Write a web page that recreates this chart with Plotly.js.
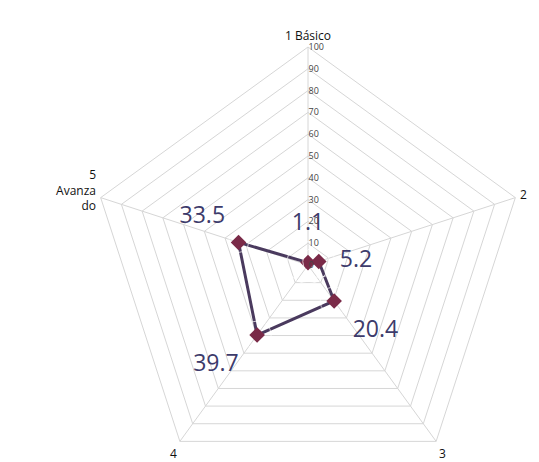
<!DOCTYPE html>
<html>
<head>
<meta charset="utf-8">
<script src="https://cdn.plot.ly/plotly-3.0.1.min.js"></script>
<style>
html, body { margin:0; padding:0; width:539px; height:462px; overflow:hidden; background:#fff; }
#chart { width:539px; height:500px; }
</style>
</head>
<body>
<div id="chart"></div>
<script>
const categories = ["1 Básico", "2", "3", "4", "5<br>Avanza<br>do"];
const values = [1.1, 5.2, 20.4, 39.7, 33.5];
const valueLabels = ["1.1", "5.2", "20.4", "39.7", "33.5"];
const labelPositions = ["top center", "middle right", "bottom right", "bottom left", "top left"];
const radialTicks = [0, 10, 20, 30, 40, 50, 60, 70, 80, 90, 100];

const closedTheta = categories.concat([categories[0]]);
const closedR = values.concat([values[0]]);

const traces = [
  {
    type: "scatterpolar",
    r: closedR,
    theta: closedTheta,
    mode: "lines",
    line: { color: "#4a3a5e", width: 3 },
    hoverinfo: "skip",
    showlegend: false
  },
  {
    type: "scatterpolar",
    r: values,
    theta: categories,
    mode: "markers",
    marker: { symbol: "diamond", size: 12, color: "#7a2a48" },
    showlegend: false
  },
  {
    type: "scatterpolar",
    r: values,
    theta: categories,
    mode: "markers+text",
    marker: { size: [42, 32, 28, 28, 20], color: "rgba(0,0,0,0)" },
    text: valueLabels,
    textposition: labelPositions,
    textfont: { family: "Open Sans, sans-serif", size: 23, color: "#3d3b6b" },
    hoverinfo: "skip",
    showlegend: false
  }
];

const layout = {
  width: 539,
  height: 500,
  margin: { l: 90, r: 13, t: 47, b: 17 },
  paper_bgcolor: "#ffffff",
  plot_bgcolor: "#ffffff",
  showlegend: false,
  polar: {
    bgcolor: "#ffffff",
    gridshape: "linear",
    domain: { x: [0, 1], y: [0, 1] },
    radialaxis: {
      range: [0, 100],
      tickvals: radialTicks,
      ticktext: radialTicks.map(String),
      angle: 90,
      tickangle: 90,
      side: "clockwise",
      showline: false,
      ticks: "",
      gridcolor: "#d6d6d6",
      gridwidth: 1,
      tickfont: { family: "Open Sans, sans-serif", size: 9, color: "#444444" }
    },
    angularaxis: {
      type: "category",
      categoryarray: categories,
      direction: "clockwise",
      rotation: 90,
      showline: true,
      linecolor: "#d6d6d6",
      gridcolor: "#d6d6d6",
      ticks: "outside",
      ticklen: 2,
      tickcolor: "rgba(0,0,0,0)",
      tickfont: { family: "Open Sans, sans-serif", size: 12, color: "#111111" }
    }
  }
};

Plotly.newPlot("chart", traces, layout, { displayModeBar: false, staticPlot: true });
</script>
</body>
</html>
